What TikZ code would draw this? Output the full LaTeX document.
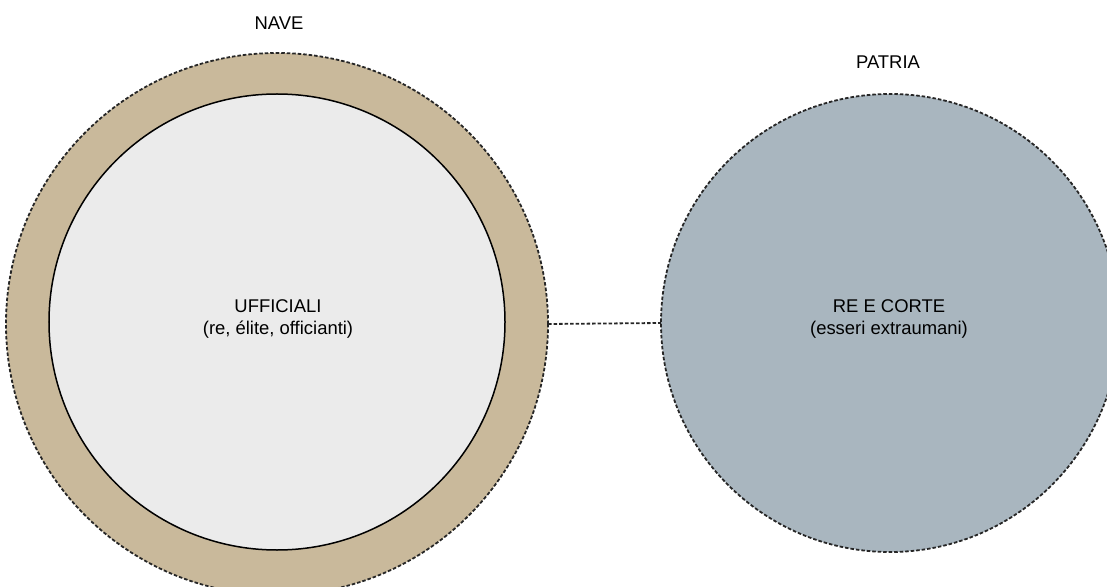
\documentclass[tikz,border=0pt]{standalone}
\usepackage{fontspec}
\setmainfont{Liberation Sans}
\definecolor{ringtan}{HTML}{C9B99B}
\definecolor{corefill}{HTML}{EBEBEB}
\definecolor{slate}{HTML}{A9B6BF}
\begin{document}
\begin{tikzpicture}[x=1bp,y=-1bp,
  dotline/.style={draw=black!85, line width=1.8bp, dash pattern=on 3.5bp off 2bp},
  disc/.style={circle, inner sep=0pt, outer sep=0pt},
  label/.style={font=\fontsize{18.5}{23}\selectfont, align=center, inner sep=0pt, text=black}]
\useasboundingbox (0,0) rectangle (1107,587);
\clip (0,0) rectangle (1107,587);
% ship: outer ring and the officers' circle
\node[disc, dotline, fill=ringtan, minimum size=542bp] (nave) at (277,324) {};
\node[disc, draw=black, line width=1.5bp, fill=corefill, minimum size=456bp] (core) at (277,322) {};
% homeland circle
\node[disc, dotline, fill=slate, minimum size=458bp] (patria) at (890,323) {};
% link between the two
\draw[dotline] (nave.east) -- (patria.west);
% labels
\node[label] (naveLabel) at (279,23) {NAVE};
\node[label] (patriaLabel) at (888,62) {PATRIA};
\node[label] (coreText) at (278,319) {UFFICIALI\\(re, élite, officianti)};
\node[label] (patriaText) at (889,319) {RE E CORTE\\(esseri extraumani)};
\end{tikzpicture}
\end{document}
